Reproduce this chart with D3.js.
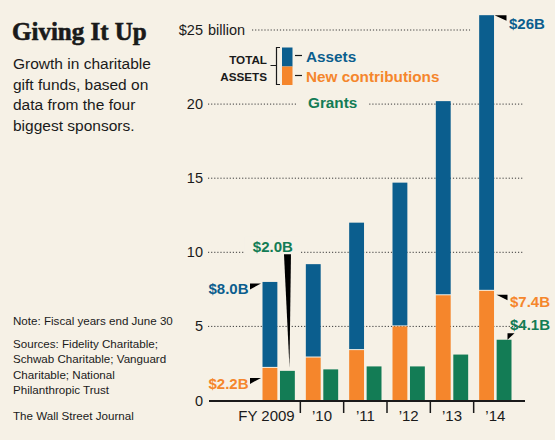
<!DOCTYPE html>
<html><head><meta charset="utf-8">
<script src="https://cdn.jsdelivr.net/npm/d3@7"></script>
<style>html,body{margin:0;padding:0;background:#f6f1e6;} svg{display:block;}</style>
</head><body><svg id="c" width="555" height="440"></svg>
<script>
// ---- data ----
const years = ["FY 2009", "\u201910", "\u201911", "\u201912", "\u201913", "\u201914"];
const totalAssets = [8.0, 9.2, 12.0, 14.7, 20.2, 26.0];
const newContributions = [2.2, 2.9, 3.4, 5.0, 7.1, 7.4];
const grants = [2.0, 2.1, 2.3, 2.3, 3.1, 4.1];
const yTicks = [0, 5, 10, 15, 20, 25];
const subtitleLines = ["Growth in charitable", "gift funds, based on", "data from the four", "biggest sponsors."];
const sourceLines = ["Sources: Fidelity Charitable;", "Schwab Charitable; Vanguard", "Charitable; National", "Philanthropic Trust"];

// ---- style ----
const BG = "#f6f1e6", BLUE = "#0b5e8e", ORANGE = "#f5862c", GREEN = "#137c55", INK = "#1a1a1a";
const SANS = "'Liberation Sans', Arial, sans-serif";
const SERIF = "'Liberation Serif','Times New Roman',serif";

const W = 555, H = 440;
const svg = d3.select("#c");
svg.append("rect").attr("width", W).attr("height", H).attr("fill", BG);

const x = d3.scaleBand().domain(years).range([257, 517]).padding(0);
const bw = x.bandwidth();
const xi = d3.scaleBand().domain(["contrib", "grants"]).range([5.5, bw - 5.5]).paddingInner(0.15);
const y = d3.scaleLinear().domain([0, 25]).range([400.5, 30]);

// ---- title block ----
svg.append("text").attr("x", 12).attr("y", 40).attr("font-family", SERIF).attr("font-weight", "bold")
  .attr("font-size", 25).attr("fill", INK).attr("stroke", INK).attr("stroke-width", 0.6).text("Giving It Up");
svg.append("g").selectAll("text").data(subtitleLines).join("text")
  .attr("x", 13).attr("y", (d, i) => 69 + i * 20.5).attr("font-family", SANS).attr("font-size", 15.5)
  .attr("fill", INK).text(d => d);

const notes = svg.append("g").attr("font-family", SANS).attr("font-size", 11.6).attr("fill", INK);
notes.append("text").attr("x", 13).attr("y", 325).text("Note: Fiscal years end June 30");
notes.selectAll(".src").data(sourceLines).join("text").attr("class", "src")
  .attr("x", 13).attr("y", (d, i) => 347.5 + i * 15.5).text(d => d);
notes.append("text").attr("x", 13).attr("y", 420).text("The Wall Street Journal");

// ---- gridlines ----
svg.append("g").selectAll("line").data(yTicks.filter(d => d > 0)).join("line")
  .attr("x1", d => d === 25 ? 252 : 208).attr("x2", 523)
  .attr("y1", d => y(d)).attr("y2", d => y(d))
  .attr("stroke", "#3a3a3a").attr("stroke-width", 1).attr("stroke-dasharray", "1.2,1.9");

// y labels
const yl = svg.append("g").attr("font-family", SANS).attr("font-size", 14.5).attr("fill", INK);
yl.selectAll("text").data(yTicks).join("text")
  .attr("x", 203).attr("y", d => y(d) + 5).attr("text-anchor", "end")
  .text(d => d === 25 ? "$25" : d);
yl.append("text").attr("x", 204).attr("y", y(25) + 5).text(" billion").attr("xml:space", "preserve");

// ---- halos (label backgrounds that cut gridlines) ----
const last = years.length - 1;
const halo = svg.append("g");

// ---- bars ----
const bars = svg.append("g");
years.forEach((yr, i) => {
  bars.append("rect").attr("x", x(yr) + xi("contrib")).attr("width", xi.bandwidth())
    .attr("y", y(totalAssets[i])).attr("height", y(newContributions[i]) - y(totalAssets[i]) - 1)
    .attr("fill", BLUE);
  bars.append("rect").attr("x", x(yr) + xi("contrib")).attr("width", xi.bandwidth())
    .attr("y", y(newContributions[i])).attr("height", y(0) - y(newContributions[i]))
    .attr("fill", ORANGE);
  bars.append("rect").attr("x", x(yr) + xi("grants")).attr("width", xi.bandwidth())
    .attr("y", y(grants[i])).attr("height", y(0) - y(grants[i]))
    .attr("fill", GREEN);
});

// ---- x axis ----
const ax = svg.append("g");
ax.append("line").attr("x1", 209).attr("x2", 525).attr("y1", 401).attr("y2", 401)
  .attr("stroke", INK).attr("stroke-width", 2);
ax.selectAll(".tk").data(years.slice(1)).join("line").attr("class", "tk")
  .attr("x1", d => x(d)).attr("x2", d => x(d)).attr("y1", 401).attr("y2", 413)
  .attr("stroke", INK).attr("stroke-width", 1.5);
ax.selectAll(".xl").data(years).join("text").attr("class", "xl")
  .attr("x", (d, i) => i === 0 ? x(d) + bw / 2 + 16 : x(d) + bw / 2)
  .attr("y", 421).attr("text-anchor", (d, i) => i === 0 ? "end" : "middle")
  .attr("font-family", SANS).attr("font-size", 15).attr("fill", INK).text(d => d);

// ---- legend ----
const lg = svg.append("g");
lg.append("text").attr("x", 267).attr("y", 63.5).attr("text-anchor", "end").attr("font-family", SANS)
  .attr("font-weight", "bold").attr("font-size", 11.7).attr("fill", INK).text("TOTAL");
lg.append("text").attr("x", 267).attr("y", 80.5).attr("text-anchor", "end").attr("font-family", SANS)
  .attr("font-weight", "bold").attr("font-size", 11.7).attr("fill", INK).text("ASSETS");
lg.append("path").attr("d", "M280,47.5 H276.5 V84.5 H280 M276.5,65.5 H270.5").attr("fill", "none")
  .attr("stroke", INK).attr("stroke-width", 1.2);
lg.append("rect").attr("x", 282).attr("y", 47.5).attr("width", 10.5).attr("height", 19).attr("fill", BLUE);
lg.append("rect").attr("x", 282).attr("y", 66.5).attr("width", 10.5).attr("height", 18.5).attr("fill", ORANGE);
lg.append("line").attr("x1", 295).attr("x2", 302).attr("y1", 55.5).attr("y2", 55.5).attr("stroke", INK).attr("stroke-width", 1.2);
lg.append("line").attr("x1", 295).attr("x2", 302).attr("y1", 75.5).attr("y2", 75.5).attr("stroke", INK).attr("stroke-width", 1.2);
const legendText = (t, xx, yy, c) => lg.append("text").attr("x", xx).attr("y", yy).attr("font-family", SANS)
  .attr("font-weight", "bold").attr("font-size", 15.3).attr("fill", c).text(t);
legendText("Assets", 306, 62, BLUE);
legendText("New contributions", 306, 82, ORANGE);
const grantsLbl = legendText("Grants", 308, 107.5, GREEN);

// ---- value labels ----
const ann = svg.append("g").attr("font-family", SANS).attr("font-weight", "bold").attr("font-size", 15);
const x0 = x(years[0]), xL = x(years[last]);
const t80 = ann.append("text").attr("x", x0 + xi("contrib") - 14).attr("y", y(totalAssets[0]) + 12)
  .attr("text-anchor", "end").attr("fill", BLUE).text("$" + totalAssets[0].toFixed(1) + "B");
const t22 = ann.append("text").attr("x", x0 + xi("contrib") - 14).attr("y", y(newContributions[0]) + 21)
  .attr("text-anchor", "end").attr("fill", ORANGE).text("$" + newContributions[0].toFixed(1) + "B");
const t20 = ann.append("text").attr("x", x0 + xi("grants") + xi.bandwidth() - 2).attr("y", y(10))
  .attr("text-anchor", "end").attr("fill", GREEN).text("$" + grants[0].toFixed(1) + "B");
const t26 = ann.append("text").attr("x", xL + xi("grants") + xi.bandwidth() - 2.5).attr("y", y(totalAssets[last]) + 13.5)
  .attr("fill", BLUE).text("$" + totalAssets[last].toFixed(0) + "B");
const t74 = ann.append("text").attr("x", xL + xi("grants") + xi.bandwidth() - 1.5).attr("y", y(newContributions[last]) + 16)
  .attr("fill", ORANGE).text("$" + newContributions[last].toFixed(1) + "B");
const t41 = ann.append("text").attr("x", xL + xi("grants") + xi.bandwidth() - 1.5).attr("y", y(grants[last]) - 9.5)
  .attr("fill", GREEN).text("$" + grants[last].toFixed(1) + "B");

// halos behind specific labels
function addHalo(node, padX, padY) {
  const b = node.node().getBBox();
  halo.append("rect").attr("x", b.x - padX).attr("y", b.y - padY).attr("width", b.width + 2 * padX)
    .attr("height", b.height + 2 * padY).attr("fill", BG);
}
addHalo(grantsLbl, 11, 2);
addHalo(t20, 8, 2);
{
  const b = t26.node().getBBox();
  halo.append("rect").attr("x", xL + xi("contrib") - 9).attr("y", b.y - 2)
    .attr("width", W - (xL + xi("contrib") - 9)).attr("height", b.height + 4).attr("fill", BG);
}

// ---- pointers ----
const ptr = svg.append("g").attr("fill", "#000");
const poly = pts => ptr.append("polygon").attr("points", pts.map(p => p.join(",")).join(" "));
const blueRight = xL + xi("contrib") + xi.bandwidth();
const yt = y(totalAssets[last]);
poly([[blueRight + 0.5, yt], [blueRight + 12.5, yt], [blueRight + 12.5, yt + 5.5]]);
const xl0 = x0 + xi("contrib");
poly([[xl0 - 12.5, y(totalAssets[0]) + 1.5], [xl0 - 1.5, y(totalAssets[0]) + 1.5], [xl0 - 12.5, y(totalAssets[0]) + 7.5]]);
poly([[xl0 - 12.5, y(newContributions[0]) + 10], [xl0 - 1.5, y(newContributions[0]) + 10], [xl0 - 12.5, y(newContributions[0]) + 16]]);
const gx0 = x0 + xi("grants");
poly([[gx0 + 4, y(10) + 2], [gx0 + 11, y(10) + 2], [gx0 + 9.5, y(grants[0]) - 3]]);
const oR = xL + xi("contrib") + xi.bandwidth();
poly([[oR + 2.5, y(newContributions[last]) + 4], [oR + 13.5, y(newContributions[last]) + 4], [oR + 13.5, y(newContributions[last]) + 9.5]]);
const gR = xL + xi("grants") + xi.bandwidth();
poly([[gR - 4, y(grants[last]) - 6.5], [gR + 3, y(grants[last]) - 6.5], [gR - 4, y(grants[last])]]);
</script></body></html>
